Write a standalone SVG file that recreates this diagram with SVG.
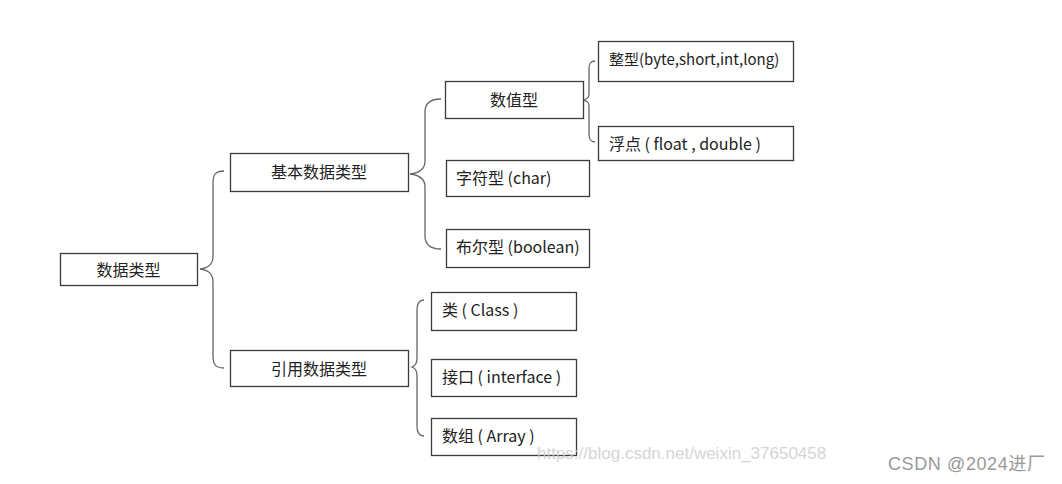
<svg xmlns="http://www.w3.org/2000/svg" width="1062" height="484" viewBox="0 0 1062 484">
<style>
.box{fill:#fff;stroke:#3a3a3a;stroke-width:1.3}
.t{font-family:"Noto Sans CJK SC","Liberation Sans",sans-serif;font-size:16px;fill:#222}
.br{fill:none;stroke:#666;stroke-width:1.3}
.wm{font-family:"Liberation Sans","Noto Sans CJK SC",sans-serif;font-size:17px;fill:#ccc;opacity:0.8}
.cs{font-family:"Liberation Sans","Noto Sans CJK SC",sans-serif;font-size:18px;letter-spacing:0.6px;fill:#999}
</style>
<rect width="1062" height="484" fill="#fff"/>
<g id="connectors">
<path class="br" d="M224,171 C214,171 213,176 213,184 L213,256 C213,265 208,268 200,269 C208,270 213,273 213,282 L213,355 C213,363 214,368 224,368"/>
<path class="br" d="M441,99 C430,99 425,104 425,112 L425,161 C425,170 419,173 410,174 C419,175 425,178 425,187 L425,236 C425,244 430,249 441,249"/>
<path class="br" d="M595,61 C590,61 589,64 589,69 L589,94 C589,98 587,99 583,100 C587,101 589,102 589,106 L589,134 C589,139 590,142 595,142"/>
<path class="br" d="M424,300 C419,300 417,303 417,310 L417,358 C417,364 415,366 412,367 C415,368 417,370 417,376 L417,426 C417,433 419,436 424,436"/>
</g>
<g id="n-root"><rect class="box" x="60.5" y="253.5" width="137" height="32"/><text class="t" x="128.5" y="276" text-anchor="middle">数据类型</text></g>
<g id="n-basic"><rect class="box" x="230.5" y="153.5" width="178" height="38"/><text class="t" x="319" y="178" text-anchor="middle">基本数据类型</text></g>
<g id="n-ref"><rect class="box" x="230.5" y="350.5" width="178" height="36"/><text class="t" x="319" y="375" text-anchor="middle">引用数据类型</text></g>
<g id="n-num"><rect class="box" x="445.5" y="81.5" width="138" height="37"/><text class="t" x="514" y="106" text-anchor="middle">数值型</text></g>
<g id="n-int"><rect class="box" x="598.5" y="41.5" width="195" height="40"/><text class="t" x="609" y="65" style="font-size:15px">整型(byte,short,int,long)</text></g>
<g id="n-float"><rect class="box" x="598.5" y="126.5" width="195" height="34"/><text class="t" x="609" y="150">浮点 ( float , double )</text></g>
<g id="n-char"><rect class="box" x="446.5" y="160.5" width="143" height="36"/><text class="t" x="456" y="184">字符型 (char)</text></g>
<g id="n-bool"><rect class="box" x="446.5" y="229.5" width="143" height="38"/><text class="t" x="456" y="253">布尔型 (boolean)</text></g>
<g id="n-class"><rect class="box" x="431.5" y="292.5" width="145" height="38"/><text class="t" x="442" y="316">类 ( Class )</text></g>
<g id="n-iface"><rect class="box" x="431.5" y="359.5" width="145" height="37"/><text class="t" x="442" y="383">接口 ( interface )</text></g>
<g id="n-array"><rect class="box" x="431.5" y="418.5" width="145" height="37"/><text class="t" x="442" y="442">数组 ( Array )</text></g>
<text class="wm" x="537" y="459">https://blog.csdn.net/weixin_37650458</text>
<text class="cs" x="888" y="470">CSDN @2024进厂</text>
</svg>
